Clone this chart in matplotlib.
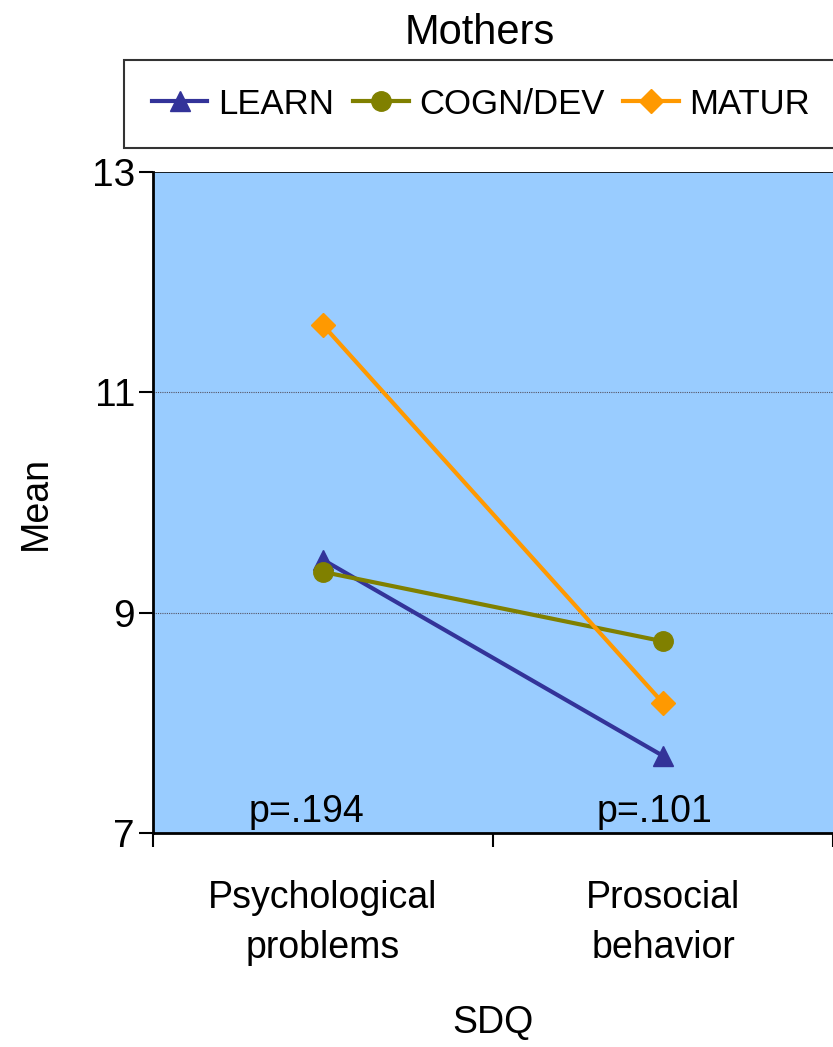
import matplotlib
matplotlib.use("Agg")
import matplotlib.pyplot as plt
from matplotlib import font_manager as fm

names = {f.name for f in fm.fontManager.ttflist}
if "Liberation Sans Narrow" in names:
    plt.rcParams['font.family'] = ["Liberation Sans Narrow", "DejaVu Sans"]
    FS = 30
    LFS = 30
else:
    plt.rcParams['font.family'] = ["Liberation Sans", "DejaVu Sans"]
    FS = 27
    LFS = 25

categories = ["Psychological\nproblems", "Prosocial\nbehavior"]
series = ["LEARN", "COGN/DEV", "MATUR"]
learn = [9.48, 7.70]
cogn = [9.37, 8.74]
matur = [11.61, 8.18]
pvalues = ["p=.194", "p=.101"]

fig = plt.figure(figsize=(8.33, 10.47), dpi=100)
ax = fig.add_axes([153/833, 1-833/1047, 1-153/833, (833-172)/1047])
ax.set_facecolor("#99CCFF")

xs = [0.5, 1.5]
ax.plot(xs, learn, color="#333399", lw=3, marker="^", ms=15, label=series[0], zorder=3)
ax.plot(xs, cogn, color="#808000", lw=3, marker="o", ms=14, label=series[1], zorder=3)
ax.plot(xs, matur, color="#FF9900", lw=3, marker="D", ms=12, label=series[2], zorder=3)

ax.set_xlim(0, 2)
ax.set_ylim(7, 13)
ax.set_yticks([7, 9, 11, 13])
ax.set_yticklabels(["7", "9", "11", "13"], fontsize=FS + 1)
ax.set_xticks([0, 1, 2])
ax.set_xticklabels([])
ax.set_xticks(xs, minor=True)
ax.set_xticklabels(categories, minor=True, fontsize=FS, linespacing=1.5)
ax.tick_params(axis="x", which="minor", length=0, pad=34)
ax.tick_params(axis="x", which="major", length=10, width=1.5, direction="out")
ax.tick_params(axis="y", length=10, width=1.5, direction="out", pad=3)

for y in [9, 11]:
    ax.axhline(y, color="#555566", lw=0.8, ls=(0, (1, 1)), zorder=1)
ax.axhline(13, color="black", lw=1.2, zorder=1)

ax.spines["right"].set_visible(False)
ax.spines["top"].set_visible(False)
ax.spines["left"].set_linewidth(2)
ax.spines["bottom"].set_linewidth(2)

for x, p in zip([0.45, 1.476], pvalues):
    ax.text(x, 7.1, p, fontsize=FS, ha="center", va="baseline")

ax.set_ylabel("Mean", fontsize=FS, labelpad=27)
ax.set_xlabel("SDQ", fontsize=FS, labelpad=28)

fig.text(480/833, 1-33/1047, "Mothers", fontsize=FS + 3, ha="center", va="center")

leg = fig.legend(loc="center", bbox_to_anchor=(481/833, 1-104/1047), ncol=3, fontsize=LFS,
                 frameon=True, fancybox=False, edgecolor="black", handlelength=1.6,
                 handletextpad=0.3, columnspacing=0.55, borderpad=0.8, borderaxespad=0)
leg.get_frame().set_linewidth(1.5)

fig.savefig("out.png", dpi=100)
